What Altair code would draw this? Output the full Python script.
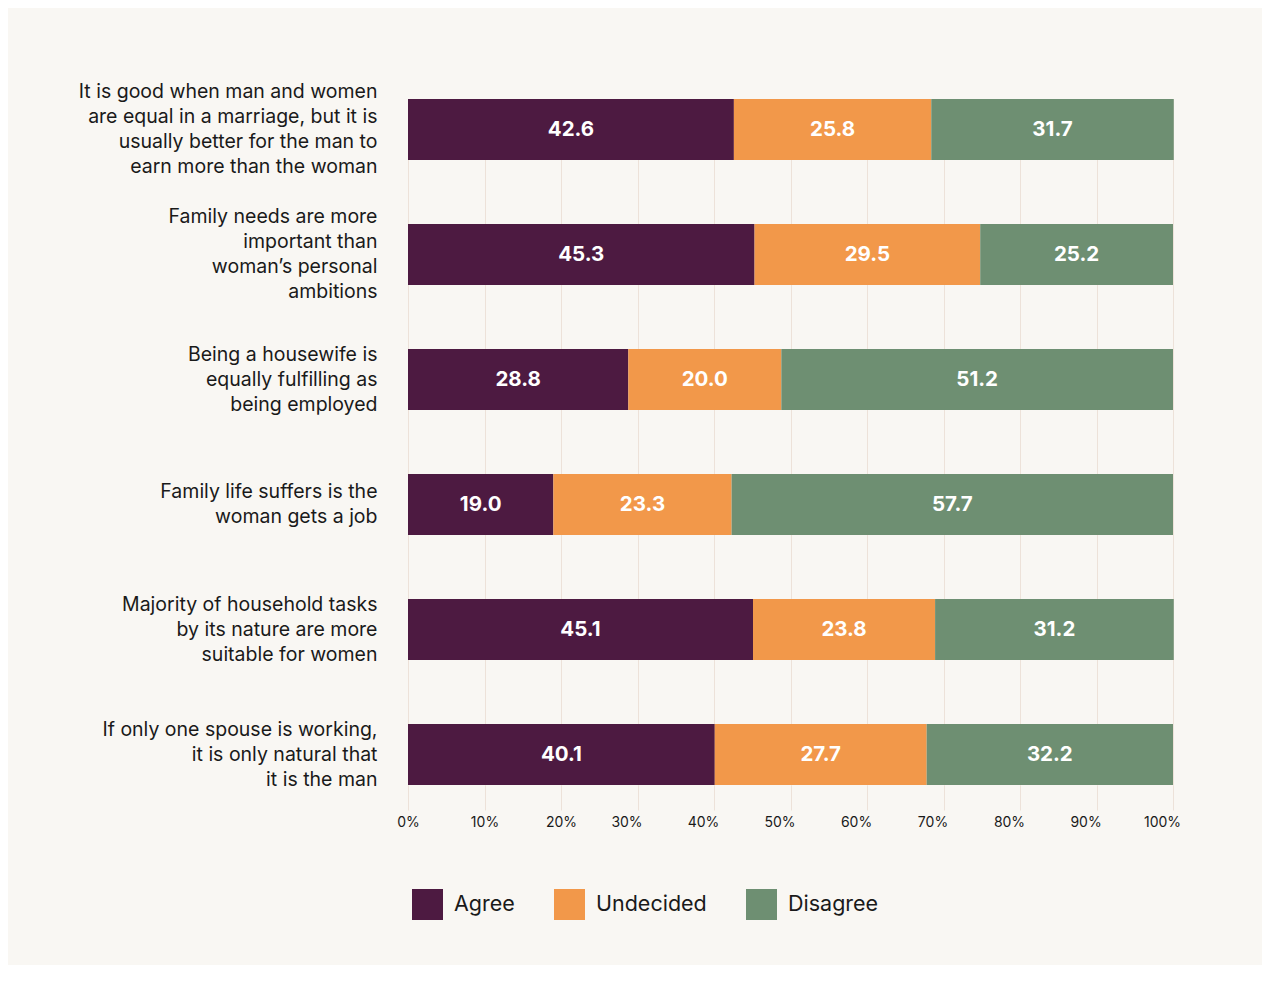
import altair as alt
import pandas as pd

statements = [
    "It is good when man and women|are equal in a marriage, but it is|usually better for the man to|earn more than the woman",
    "Family needs are more |important than|woman’s personal|ambitions",
    "Being a housewife is|equally fulfilling as|being employed",
    "Family life suffers is the|woman gets a job",
    "Majority of household tasks|by its nature are more|suitable for women",
    "If only one spouse is working,|it is only natural that|it is the man",
]
responses = ["Agree", "Undecided", "Disagree"]
agree = [42.6, 45.3, 28.8, 19.0, 45.1, 40.1]
undecided = [25.8, 29.5, 20.0, 23.3, 23.8, 27.7]
disagree = [31.7, 25.2, 51.2, 57.7, 31.2, 32.2]
colors = ["#4d1a41", "#f2984a", "#6e8f72"]
tick_values = [0, 10, 20, 30, 40, 50, 60, 70, 80, 90, 100]

rows = []
for i, s in enumerate(statements):
    for r, (name, vals) in enumerate(zip(responses, [agree, undecided, disagree])):
        rows.append({"statement": s, "response": name, "value": vals[i], "rank": r})
df = pd.DataFrame(rows)

FONT = "Inter"
BG = "#f9f7f3"
GRID = "#ede2d9"
LH = 25

nlines = "length(split(datum.value, '|'))"
y_label_offset = {
    "condition": [
        {"test": f"{nlines} == 4", "value": -1.5 * LH},
        {"test": f"{nlines} == 3", "value": -1.0 * LH},
        {"test": f"{nlines} == 2", "value": -0.5 * LH},
    ],
    "value": 0,
}

y_enc = alt.Y(
    "statement:N",
    sort=statements,
    title=None,
    scale=alt.Scale(paddingInner=0.512, paddingOuter=0),
    axis=alt.Axis(
        labelExpr="split(datum.label, '|')",
        labelFontSize=19.5,
        labelLineHeight=LH,
        labelFont=FONT,
        labelColor="#1a1a1a",
        labelAlign="right",
        labelBaseline="middle",
        labelOffset=y_label_offset,
        labelPadding=31,
        ticks=False,
        domain=False,
        grid=False,
        labelLimit=400,
    ),
)

x_scale = alt.Scale(domain=[0, 100], nice=False)

bars = alt.Chart(df).mark_bar().encode(
    y=y_enc,
    x=alt.X(
        "value:Q",
        stack="zero",
        scale=x_scale,
        title=None,
        axis=alt.Axis(
            values=tick_values,
            labelExpr="datum.value + '%'",
            labelFontSize=14,
            labelFont=FONT,
            labelColor="#1a1a1a",
            labelFlush=False,
            labelOverlap=False,
            labelOffset={"condition": {"test": "datum.value >= 30", "value": -11}, "value": 0},
            labelPadding=5,
            tickSize=25,
            tickColor=GRID,
            tickWidth=1,
            domain=False,
            grid=True,
            gridColor=GRID,
            gridWidth=1,
        ),
    ),
    color=alt.Color(
        "response:N",
        sort=responses,
        scale=alt.Scale(domain=responses, range=colors),
        legend=alt.Legend(
            title=None,
            orient="none",
            legendX=4,
            legendY=790,
            direction="horizontal",
            symbolType="square",
            symbolSize=961,
            symbolStrokeWidth=0,
            symbolOpacity=1,
            labelFontSize=21.5,
            labelFont=FONT,
            labelColor="#1a1a1a",
            labelOffset=11,
            columnPadding=39,
        ),
    ),
    order=alt.Order("rank:Q"),
)

text = (
    alt.Chart(df)
    .transform_stack(
        stack="value",
        groupby=["statement"],
        sort=[alt.SortField("rank", order="ascending")],
        as_=["x0", "x1"],
    )
    .transform_calculate(mid="(datum.x0 + datum.x1) / 2")
    .mark_text(color="white", fontSize=20.5, fontWeight="bold", font=FONT, baseline="middle", align="center")
    .encode(
        y=alt.Y("statement:N", sort=statements),
        x=alt.X("mid:Q", scale=x_scale),
        text=alt.Text("value:Q", format=".1f"),
    )
)

chart = (
    alt.layer(bars, text)
    .properties(
        width=765,
        height=686,
        background=BG,
        autosize=alt.AutoSizeParams(type="none"),
        padding={"left": 400, "top": 91, "right": 89, "bottom": 180},
    )
    .configure_view(stroke=None)
)

chart.save("out.html", embed_options={"renderer": "svg", "actions": False})
